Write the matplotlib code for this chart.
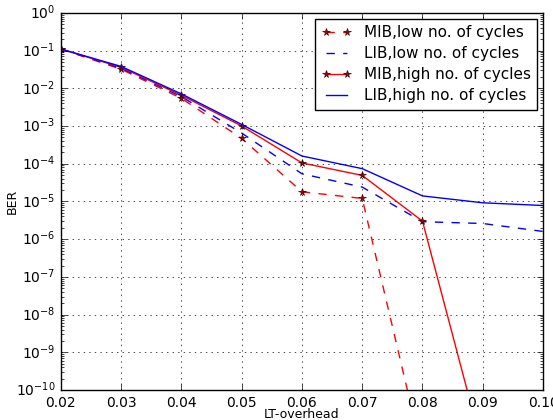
import matplotlib
matplotlib.use("Agg")
import matplotlib.pyplot as plt

plt.style.use('classic')

overhead = [0.02, 0.03, 0.04, 0.05, 0.06, 0.07, 0.08, 0.09, 0.10]
mib_low = [0.11, 0.032, 0.0054, 4.7e-4, 1.8e-5, 1.2e-5, 2e-12, 1e-13, 1e-14]
lib_low = [0.11, 0.034, 0.0060, 6.5e-4, 5.4e-5, 2.4e-5, 2.9e-6, 2.6e-6, 1.6e-6]
mib_high = [0.11, 0.036, 0.0065, 1.0e-3, 1.05e-4, 4.9e-5, 3.0e-6, 2.7e-12, 1e-13]
lib_high = [0.11, 0.038, 0.0071, 1.1e-3, 1.6e-4, 7.4e-5, 1.4e-5, 9.2e-6, 7.8e-6]
labels = ['MIB,low no. of cycles', 'LIB,low no. of cycles',
          'MIB,high no. of cycles', 'LIB,high no. of cycles']

fig = plt.figure(figsize=(5.53, 4.2), dpi=100, facecolor='white')
ax = fig.add_axes([0.110, 0.0714, 0.872, 0.898])
ax.set_facecolor('white')

ax.semilogy(overhead, mib_low, 'r--', marker='*', markersize=5.5,
            markerfacecolor='#b00000', markeredgecolor='#400000', lw=1, label=labels[0])
ax.semilogy(overhead, lib_low, 'b--', lw=1, label=labels[1])
ax.semilogy(overhead, mib_high, 'r-', marker='*', markersize=5.5,
            markerfacecolor='#b00000', markeredgecolor='#400000', lw=1, label=labels[2])
ax.semilogy(overhead, lib_high, 'b-', lw=1, label=labels[3])

ax.set_xlim(0.02, 0.10)
ax.set_ylim(1e-10, 1)
ax.set_xticks(overhead)
ax.set_xticklabels(['%.2f' % v for v in overhead])
ax.tick_params(labelsize=10)
ax.grid(True, color='black', linestyle=':', linewidth=0.5)
ax.set_xlabel('LT-overhead', fontsize=9)
ax.set_ylabel('BER', fontsize=9)
ax.xaxis.set_label_coords(0.5, -0.049)
ax.yaxis.set_label_coords(-0.087, 0.5)
leg = ax.legend(loc='upper right', fontsize=11, numpoints=2, fancybox=False,
                handlelength=2.0, labelspacing=0.4, borderaxespad=0.4)
leg.get_frame().set_edgecolor('black')

fig.savefig('out.png', dpi=100, facecolor='white')
